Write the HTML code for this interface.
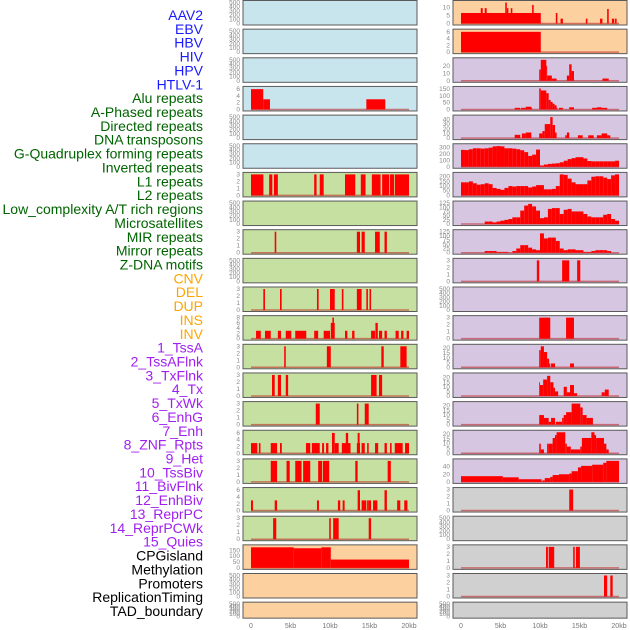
<!DOCTYPE html>
<html><head><meta charset="utf-8">
<style>
html,body{margin:0;padding:0;background:#fff;}
svg{display:block;font-family:"Liberation Sans",sans-serif;}
</style></head>
<body>
<svg id="chart" width="630" height="630" viewBox="0 0 630 630" xmlns="http://www.w3.org/2000/svg">
<g id="labels"></g>
<g id="panels"></g>
<g id="xaxes"></g>
</svg>
<script>
// ---------- labels ----------
const labelNames = ["AAV2","EBV","HBV","HIV","HPV","HTLV-1","Alu repeats","A-Phased repeats","Directed repeats","DNA transposons","G-Quadruplex forming repeats","Inverted repeats","L1 repeats","L2 repeats","Low_complexity A/T rich regions","Microsatellites","MIR repeats","Mirror repeats","Z-DNA motifs","CNV","DEL","DUP","INS","INV","1_TssA","2_TssAFlnk","3_TxFlnk","4_Tx","5_TxWk","6_EnhG","7_Enh","8_ZNF_Rpts","9_Het","10_TssBiv","11_BivFlnk","12_EnhBiv","13_ReprPC","14_ReprPCWk","15_Quies","CPGisland","Methylation","Promoters","ReplicationTiming","TAD_boundary"];
const labelGroups = [0,0,0,0,0,0,1,1,1,1,1,1,1,1,1,1,1,1,1,2,2,2,2,2,3,3,3,3,3,3,3,3,3,3,3,3,3,3,3,4,4,4,4,4];
const xTickKb = [0,5,10,15,20];
const xTickLabels = ["0","5kb","10kb","15kb","20kb"];

// ---------- left column data (segments: [startKb, endKb, value]) ----------
const L3 = [[0,1.55,6],[1.55,2.4,3],[14.6,17,3]];
const L6 = [[0,1.57,3],[2.3,2.7,3],[2.9,3.4,3],[8.0,8.3,3],[8.7,9.2,3],[11.9,13.2,3],[13.9,14.5,3],[15.3,16.4,3],[16.6,17.5,3],[17.6,18.1,3],[18.2,20,3]];
const L8 = [[3.0,3.2,3],[13.4,13.8,3],[14.0,14.4,3],[15.7,16.3,3],[16.9,17.2,3]];
const L10 = [[1.56,1.77,3],[3.67,3.88,3],[8.35,8.56,3],[10.0,10.6,3],[11.5,11.7,3],[13.4,14.0,3],[14.6,14.8,3],[15.0,15.2,3]];
const L11 = [[0.64,1.24,3],[1.77,2.5,3],[3.4,3.8,3],[4.4,5.1,3],[5.6,7.0,3],[8.0,8.5,3],[9.2,10.0,3],[10.1,10.6,6],[10.3,10.5,8],[11.9,12.2,3],[12.8,13.1,3],[15.2,15.7,3],[15.75,16.05,6],[16.2,16.6,3],[16.9,17.2,3],[18.3,18.7,3],[19.0,19.3,3],[19.7,20,3]];
const L12 = [[4.2,4.4,3],[9.6,10.1,3],[16.5,16.8,3],[18.9,19.7,3]];
const L13 = [[2.66,3.0,3],[3.4,3.8,3],[4.4,4.7,3],[15.2,15.9,3],[16.2,16.6,3]];
const L14 = [[8.2,8.7,3],[13.4,13.6,3],[14.4,14.9,3]];
const L15 = [[0.0,0.8,3],[1.0,1.2,3],[2.5,3.3,3],[3.67,3.9,3],[6.96,7.5,3],[7.7,8.7,3],[9.0,9.25,3],[9.5,9.8,3],[10.25,10.6,6],[10.6,11.1,3],[11.5,12.6,3],[12.0,12.3,6],[13.4,13.8,3],[13.5,13.75,6],[14.0,14.4,3],[14.7,14.9,3],[15.7,16.1,3],[16.9,17.2,3],[17.6,17.8,3],[18.2,19.2,3],[19.5,20,3]];
const L16 = [[2.5,3.3,3],[4.5,4.9,3],[5.6,6.4,3],[6.6,7.5,3],[8.5,9.0,3],[9.1,9.9,3],[13.2,13.5,3],[17.3,17.7,3]];
const L17 = [[0,0.25,3],[3.0,3.3,3],[8.35,8.6,3],[11.0,11.3,3],[11.6,11.85,3],[13.5,13.8,6],[14.0,14.6,3],[14.7,14.9,3],[14.9,15.2,3],[15.45,16.0,3],[16.9,17.2,6],[18.5,18.9,3],[19.4,19.8,3]];
const L18 = [[2.8,3.2,3],[9.9,10.1,3],[10.4,11.1,3],[14.9,15.2,3]];
const L19 = [[0,5.4,176],[5.4,8.9,168],[8.9,10.1,176],[10.1,20,71]];

// ---------- right column data ----------
const R0 = [[0,10.1,6.5],[2.5,2.75,9.5],[3.0,3.25,9.5],[5.6,5.8,13],[5.8,6.0,9.5],[6.3,6.5,9.5],[9.0,9.2,11.5],[12.0,12.2,6.5],[12.6,12.9,3],[15.8,16.0,3],[17.6,17.9,3],[18.5,18.7,9],[19.1,19.4,3],[19.5,19.7,3]];
const R1 = [[0,10.1,6]];
const R2 = [[9.9,10.1,15],[10.1,10.8,28],[10.8,10.9,20],[10.9,11.5,7],[11.5,12.1,3],[13.4,13.7,7],[13.7,14.0,22],[14.0,14.3,13],[17.9,18.7,3]];
const R3 = [[6.8,7.5,12],[7.6,8.2,12],[8.2,8.9,20],[8.9,9.0,12],[9.9,10.1,155],[10.1,10.8,140],[10.8,11.1,120],[11.1,11.35,70],[11.35,11.6,55],[11.6,11.85,42],[11.85,12.1,30],[12.1,12.2,12],[12.4,12.9,12],[13.7,14.3,16],[16.6,17.2,12],[17.2,17.8,16],[17.8,18.5,12]];
const R4 = [[6.8,7.5,7],[7.7,8.2,10],[8.2,8.9,12],[9.9,10.3,10],[10.3,10.6,15],[10.6,11.3,30],[11.3,11.6,45],[11.6,11.9,28],[11.9,12.1,12],[13.2,13.4,6],[13.4,13.7,12],[14.8,15.4,6],[16.1,16.8,6],[17.2,17.8,6],[17.8,18.5,10],[18.5,18.9,6]];
// half-kb bins
const R5bins = [265,262,275,290,290,285,290,300,320,325,320,290,290,285,275,260,230,170,190,270,20,35,45,50,55,70,95,120,135,150,150,130,90,85,85,85,85,85,85,95];
const R6bins = [140,140,150,130,115,120,130,120,80,70,60,80,100,95,100,100,100,85,95,110,110,65,65,70,100,225,220,180,140,120,120,120,160,200,205,205,190,175,215,225];
const R7bins = [0,0,0,0,0,0,15,15,10,15,20,25,30,40,40,80,110,120,105,80,35,40,90,95,95,60,85,90,75,75,75,60,45,40,40,40,55,60,30,20];
const R8bins = [0,0,0,0,0,0,10,10,10,5,5,5,0,10,25,45,45,30,20,15,115,85,90,90,70,25,15,20,20,15,15,5,5,10,15,15,15,10,0,0];
const R9 = [[9.6,9.9,3],[12.8,13.7,3],[14.7,15.1,3]];
const R11 = [[9.9,11.3,3],[13.3,14.3,3]];
const R12 = [[9.9,10.1,18],[10.1,10.5,22],[10.5,10.9,16],[10.9,11.15,9],[11.15,11.3,4],[11.4,11.9,4],[13.8,14.3,4]];
const R13 = [[9.9,10.0,15],[10.0,10.4,12],[10.4,10.9,18],[10.9,11.3,22],[11.3,11.7,15],[11.7,11.9,9],[11.9,12.3,5],[13.0,13.4,10],[13.4,13.8,4],[13.8,14.3,12],[14.3,14.7,3],[17.8,18.2,4],[18.2,18.7,7]];
const R14 = [[9.9,10.5,10],[10.5,11.1,7],[11.1,11.4,3],[11.4,11.9,7],[12.0,12.8,3],[12.8,13.0,7],[13.0,13.3,10],[13.3,14.0,13],[14.0,15.1,22],[15.1,15.4,18],[15.4,15.9,10],[15.9,16.7,7]];
const R15 = [[9.9,10.1,10],[10.1,10.5,4],[10.9,11.1,10],[11.1,11.6,10],[11.6,11.9,16],[11.9,12.1,19],[12.1,13.2,22],[13.2,13.4,10],[13.4,13.9,7],[13.9,15.1,4],[15.1,15.3,7],[15.3,16.5,16],[16.5,16.9,22],[16.9,17.1,19],[17.1,18.1,16],[18.1,18.4,10],[18.4,18.7,4]];
const R16 = [[0,5.3,15],[5.3,7.3,12],[7.3,10.2,7],[10.3,10.6,4],[10.6,11.3,10],[11.3,11.6,13],[11.6,12.4,18],[12.4,13.7,20],[13.7,14.0,22],[14.0,14.8,28],[14.8,15.2,38],[15.2,16.6,42],[16.6,18.0,45],[18.0,18.4,50],[18.4,20,55]];
const R17 = [[13.7,14.2,3]];
const R19 = [[10.76,11.0,3],[11.1,11.8,3],[14.2,14.4,3],[14.55,15.05,3]];
const R20 = [[18.1,18.5,3],[18.9,19.2,3]];

// tick sets
const T500 = [0,100,200,300,400,500];
const T3 = [0,1,2,3];
const T6 = [0,2,4,6];
const T8 = [0,2,4,6,8];

function binsToSegs(b){ return b.map((v,i)=>[i*0.5,i*0.5+0.5,v]); }

const BLUE="#c8e4ec", GREEN="#c6e0a2", ORANGE="#fdd09f", PURPLE="#d6c6e2", GRAY="#d0d0d0";
// [bg, data, ymax, ticks]
const leftPanels = [
 [BLUE,null,500,T500],[BLUE,null,500,T500],[BLUE,null,500,T500],[BLUE,L3,6.2,T6],[BLUE,null,500,T500],[BLUE,null,500,T500],
 [GREEN,L6,3,T3],[GREEN,null,500,T500],[GREEN,L8,3,T3],[GREEN,null,500,T500],[GREEN,L10,3,T3],[GREEN,L11,8,T8],
 [GREEN,L12,3,T3],[GREEN,L13,3,T3],[GREEN,L14,3,T3],[GREEN,L15,6.2,T6],[GREEN,L16,3,T3],[GREEN,L17,6.2,T6],[GREEN,L18,3,T3],
 [ORANGE,L19,180,[0,50,100,150]],[ORANGE,null,500,T500],[ORANGE,null,500,T500]
];
const rightPanels = [
 [ORANGE,R0,13,[0,5,10]],[ORANGE,R1,6.2,T6],[PURPLE,R2,28,[0,10,20]],[PURPLE,R3,155,[0,50,100,150]],[PURPLE,R4,45,[0,10,20,30,40]],
 [PURPLE,binsToSegs(R5bins),330,[0,100,200,300]],[PURPLE,binsToSegs(R6bins),225,[0,50,100,150,200]],
 [PURPLE,binsToSegs(R7bins),125,[0,25,50,75,100,125]],[PURPLE,binsToSegs(R8bins),125,[0,25,50,75,100,125]],
 [PURPLE,R9,3,T3],[PURPLE,null,500,T500],[PURPLE,R11,3,T3],[PURPLE,R12,22,[0,5,10,15,20]],[PURPLE,R13,23,[0,5,10,15,20]],
 [PURPLE,R14,22,[0,5,10,15,20]],[PURPLE,R15,22,[0,5,10,15,20]],[PURPLE,R16,55,[0,20,40]],
 [GRAY,R17,3,T3],[GRAY,null,500,T500],[GRAY,R19,3,T3],[GRAY,R20,3,T3],[GRAY,null,500,T500]
];

const NS="http://www.w3.org/2000/svg";
function mk(tag,attrs,parent){const e=document.createElementNS(NS,tag);for(const k in attrs)e.setAttribute(k,attrs[k]);parent.appendChild(e);return e;}

// labels
const labelColors=["#1a1aff","#006400","#ffa500","#a020f0","#000000"];
const lg=document.getElementById('labels');
labelNames.forEach((n,i)=>{
  const t=mk('text',{x:203,y:15+i*13.86+5,'text-anchor':'end','font-size':'14',fill:labelColors[labelGroups[i]]},lg);
  
  
  t.textContent=n;
});

const pg=document.getElementById('panels');
const ROWH=28.65;
function kx(col,kb){return col+8+kb*7.9;}
function drawColumn(col,panels,side){
  panels.forEach((p,i)=>{
    const [bg,data,ymax,ticks]=p;
    const top=i*ROWH+0.5, h=(i===panels.length-1)?16:24.5;
    const vy=v=>top+h-1.5-v/ymax*(h-3.5);
    const g=mk('g',{},pg);
    
    
    const r=mk('rect',{x:col,y:top,width:174,height:h,fill:bg,stroke:'#5a5a5a','stroke-width':1},g);
    
    
    ticks.forEach(t=>{
      const tl=mk('text',{x:col-3,y:vy(t)+2,'text-anchor':'end','font-size':'6.5',fill:'#888'},g);
      
      
      tl.textContent=t;
    });
    if(data){
      const bl=mk('line',{x1:kx(col,0),x2:kx(col,20),y1:vy(0),y2:vy(0),stroke:'rgba(190,30,30,0.55)','stroke-width':1.5},g);
      
      
      data.forEach(s=>{
        if(s[2]<=0) return;
        const b=mk('rect',{x:kx(col,s[0]),y:vy(s[2]),width:Math.max(0.8,kx(col,s[1])-kx(col,s[0])),height:vy(0)-vy(s[2]),fill:'#ff0000'},g);
        
        
      });
    }
  });
}
drawColumn(243,leftPanels,'left');
drawColumn(453,rightPanels,'right');

const xg=document.getElementById('xaxes');
[243,453].forEach(col=>{
  xTickKb.forEach((k,i)=>{
    const t=mk('text',{x:kx(col,k),y:628,'text-anchor':'middle','font-size':'7',fill:'#777'},xg);
    
    
    t.textContent=xTickLabels[i];
  });
});
</script>
</body></html>
